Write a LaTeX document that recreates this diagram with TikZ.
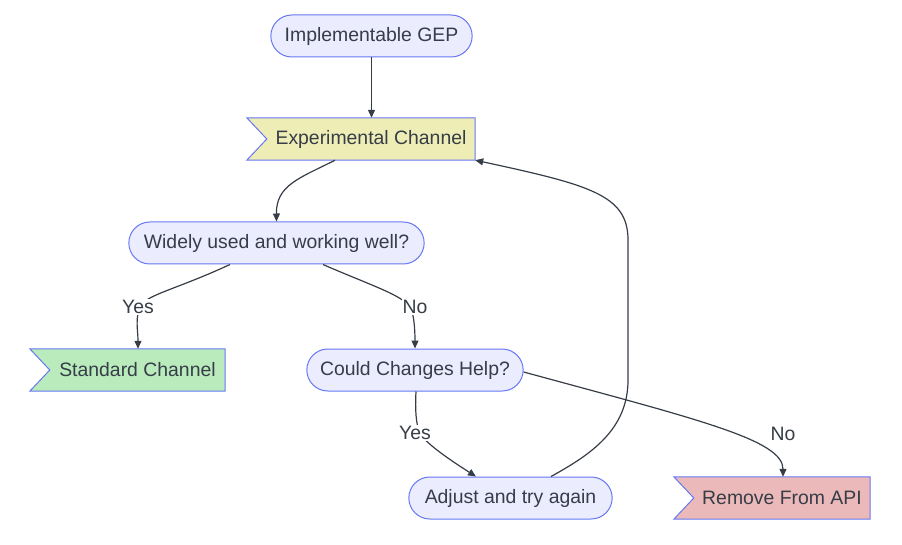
\documentclass[tikz,border=0pt]{standalone}
\usepackage{fontspec}
\setmainfont{Liberation Sans}
\usetikzlibrary{positioning, shapes.misc, arrows.meta, backgrounds}
\definecolor{boxfill}{HTML}{ECECFF}
\definecolor{boxline}{HTML}{6678F2}
\definecolor{expfill}{HTML}{EEEDB5}
\definecolor{stdfill}{HTML}{B9EBBC}
\definecolor{remfill}{HTML}{EBB9B9}
\definecolor{txtgray}{HTML}{363D47}
\definecolor{linegray}{HTML}{363D47}

\begin{document}
\begin{tikzpicture}[x=1pt, y=-1pt,
    every node/.style={text=txtgray, font=\fontsize{19.4}{23}\selectfont},
    pill/.style={rounded rectangle, draw=boxline, fill=boxfill, line width=1pt, minimum height=42pt},
    flag/.style={rectangle, minimum height=42pt},
    edge/.style={draw=linegray, line width=1.2pt, -{Triangle[length=8pt,width=7pt]}},
    lbl/.style={fill=white, inner sep=1pt}]
    \useasboundingbox (0,0) rectangle (902,545);

    % boxes
    \node[pill, minimum width=208pt] (gep) at (371.5,36) {Implementable GEP};
    \node[flag, minimum width=228pt] (exp) at (361,139) {\hspace*{20pt}Experimental Channel};
    \node[pill, minimum width=302pt] (wide) at (276.5,243) {Widely used and working well?};
    \node[flag, minimum width=195pt] (std) at (127.5,370) {\hspace*{20pt}Standard Channel};
    \node[pill, minimum width=223pt] (could) at (415,370) {Could Changes Help?};
    \node[pill, minimum width=210pt] (adj) at (510.5,498) {Adjust and try again};
    \node[flag, minimum width=196pt] (rem) at (772,498) {\hspace*{20pt}Remove From API};

    % flag outlines behind the text
    \begin{scope}[on background layer]
        \foreach \n/\c in {exp/expfill, std/stdfill, rem/remfill}
            \filldraw[fill=\c, draw=boxline, line width=1pt] (\n.north west) -- (\n.north east)
                -- (\n.south east) -- (\n.south west) -- ([xshift=20pt]\n.west) -- cycle;
    \end{scope}

    % connectors
    \draw[edge] (gep.south) -- (gep.south |- exp.north);
    \draw[edge] ([xshift=-26pt]exp.south) .. controls (300,178) and (276,185) .. (wide.north);
    \draw[edge] ([xshift=-46.5pt]wide.south) .. controls (175,290) and (145,295) .. (140,307)
        node[lbl, xshift=-2pt] (yes1) {Yes} .. controls (135,319) and (138,330) .. ([xshift=10.5pt]std.north);
    \draw[edge] ([xshift=46.5pt]wide.south) .. controls (370,285) and (402,295) .. (410,307)
        node[lbl, xshift=5pt] (no1) {No} .. controls (414,313) and (415,330) .. (could.north);
    \draw[edge] ([xshift=1pt]could.south) .. controls (415,410) and (416,425) .. (420,433)
        node[lbl, xshift=-5pt] (yes2) {Yes} .. controls (425,443) and (450,460) .. ([xshift=-34.5pt]adj.north);
    \draw[edge] ([yshift=-2pt]could.east) .. controls (700,420) and (783,440) .. ([xshift=11pt]rem.north);
    \node (no2) at (783,434) {No};
    \draw[edge] ([xshift=40.5pt]adj.north) .. controls (590,455) and (628,430) .. (628,380)
        -- (628,240) .. controls (628,195) and (590,185) .. (exp.south east);
\end{tikzpicture}
\end{document}
